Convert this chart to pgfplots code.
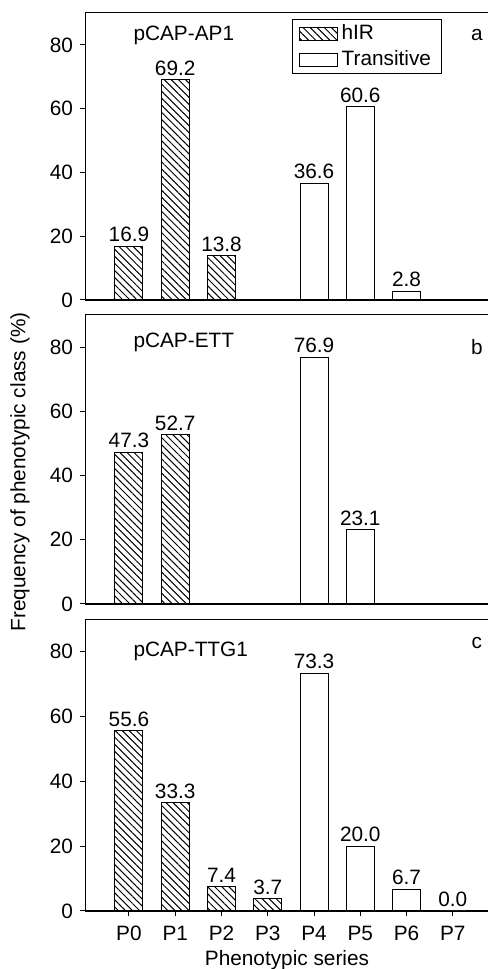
\documentclass[border=0pt]{standalone}
\usepackage{fontspec}
\setmainfont{Liberation Sans}
\usepackage{pgfplots}
\pgfplotsset{compat=1.18}
\usetikzlibrary{patterns.meta}
\newcommand{\ff}{\fontsize{10.4}{12.2}\selectfont}

\tikzset{tag/.style={anchor=west, inner sep=0pt}}
\pgfplotsset{
  panel/.style={
    scale only axis, width=201.5pt,
    xmin=-0.95, xmax=7.76, ymin=0, ymax=90,
    axis x line*=bottom, axis y line*=left,
    x axis line style={line width=1pt},
    y axis line style={line width=0.5pt},
    ytick={0,20,40,60,80},
    tick align=outside, major tick length=2.5pt,
    tick style={line width=0.5pt, black},
    xtick=\empty,
    font=\ff, tick label style={font=\ff},
    xticklabel style={yshift=-1.5pt},
    /pgf/number format/assume math mode=true,
    ybar, bar width=14pt, bar shift=0pt,
    nodes near coords,
    every node near coord/.append style={font=\ff, inner sep=1.8pt},
    nodes near coords={\pgfmathprintnumber[fixed,fixed zerofill,precision=1]{\pgfplotspointmeta}},
    clip=false,
  },
  hir/.style={draw=black, line width=0.5pt, pattern color=black,
    pattern={Lines[angle=-45,distance=2.5pt,line width=0.5pt]}},
  trans/.style={draw=black, line width=0.5pt, fill=white},
}

\begin{document}
\begin{tikzpicture}
\path[use as bounding box] (0,0) rectangle (244pt,484.5pt);

% panel a
\begin{axis}[panel, at={(42.5pt,334.5pt)}, anchor=south west, height=143.5pt,
  legend style={at={(0.514,0.979)}, anchor=north west, draw=black, line width=0.5pt,
    font=\ff, inner xsep=3pt, inner ysep=0.5pt, cells={anchor=west}},
  legend image code/.code={\draw[#1] (0pt,-3.25pt) rectangle (19pt,3.25pt);}]
\addplot[hir] coordinates {(0,16.9) (1,69.2) (2,13.8)};
\addlegendentry{hIR}
\addplot[trans] coordinates {(4,36.6) (5,60.6) (6,2.8)};
\addlegendentry{Transitive}
\draw[line width=0.5pt] (rel axis cs:0,1) -- (rel axis cs:1,1);
\node[tag] at (axis cs:0.09,83) {pCAP-AP1};
\node at (axis cs:7.52,83) {a};
\end{axis}

% panel b
\begin{axis}[panel, at={(42.5pt,182.5pt)}, anchor=south west, height=144.5pt]
\addplot[hir] coordinates {(0,47.3) (1,52.7)};
\addplot[trans] coordinates {(4,76.9) (5,23.1)};
\draw[line width=0.5pt] (rel axis cs:0,1) -- (rel axis cs:1,1);
\node[tag] at (axis cs:0.09,81.6) {pCAP-ETT};
\node at (axis cs:7.52,80) {b};
\end{axis}

% panel c
\begin{axis}[panel, at={(42.5pt,29pt)}, anchor=south west, height=146pt,
  xtick={0,1,2,3,4,5,6,7}, xticklabels={P0,P1,P2,P3,P4,P5,P6,P7}]
\addplot[hir] coordinates {(0,55.6) (1,33.3) (2,7.4) (3,3.7)};
\addplot[trans] coordinates {(4,73.3) (5,20.0) (6,6.7) (7,0.0)};
\draw[line width=0.5pt] (rel axis cs:0,1) -- (rel axis cs:1,1);
\node[tag] at (axis cs:0.09,80) {pCAP-TTG1};
\node at (axis cs:7.52,82.7) {c};
\end{axis}

\node[font=\ff, rotate=90] at (10pt,248.5pt) {Frequency of phenotypic class (\%)};
\node[font=\ff] at (143.5pt,4.5pt) {Phenotypic series};
\end{tikzpicture}
\end{document}
